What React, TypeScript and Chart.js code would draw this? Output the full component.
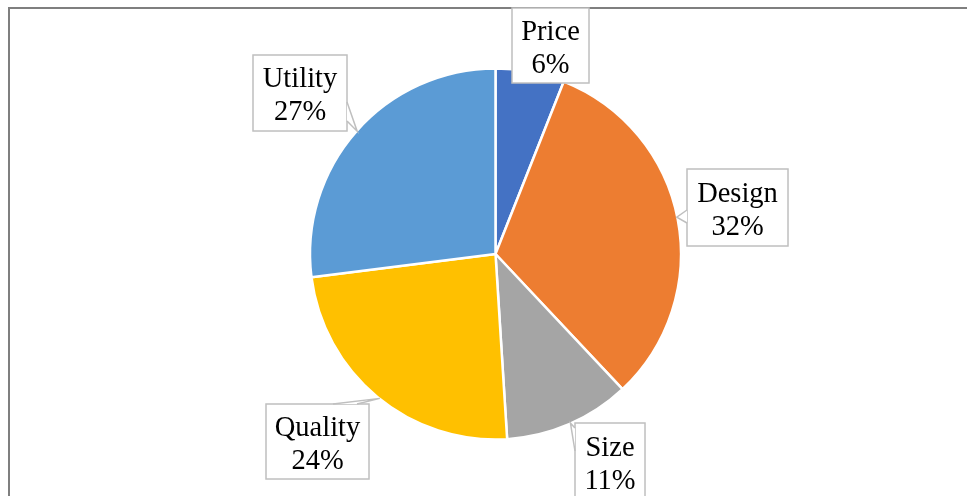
import React, { useEffect, useRef } from "react";
import { Chart, registerables } from "chart.js";

Chart.register(...registerables);

const categories = ["Price", "Design", "Size", "Quality", "Utility"];
const values = [6, 32, 11, 24, 27];
const percentLabels = ["6%", "32%", "11%", "24%", "27%"];
const colors = ["#4472C4", "#ED7D31", "#A5A5A5", "#FFC000", "#5B9BD5"];

// label callout layout: box [x, y, w, h], wedge base points, tip angle (deg clockwise from 12 o'clock)
type Callout = { box: [number, number, number, number]; base: [number, number][] | null; tipAngle: number };
const callouts: Callout[] = [
  { box: [512, 8, 77, 75], base: null, tipAngle: 0 },
  { box: [687, 169, 101, 77], base: [[687, 210], [687, 223]], tipAngle: 78.5 },
  { box: [575, 423, 70, 77], base: [[575, 428], [575, 451]], tipAngle: 156.1 },
  { box: [266, 404, 103, 75], base: [[333, 404], [357, 404]], tipAngle: 218.7 },
  { box: [253, 55, 94, 76], base: [[347, 102], [347, 121]], tipAngle: 311.6 },
];

const labelPlugin = {
  id: "calloutLabels",
  beforeDraw(chart: any) {
    const ctx = chart.ctx;
    ctx.save();
    ctx.fillStyle = "#ffffff";
    ctx.fillRect(0, 0, chart.width, chart.height);
    ctx.fillStyle = "#7f7f7f";
    ctx.fillRect(8, 7, chart.width - 8, 2);
    ctx.fillRect(8, 7, 2, chart.height - 7);
    ctx.restore();
  },
  afterDatasetsDraw(chart: any) {
    const ctx = chart.ctx;
    const meta = chart.getDatasetMeta(0);
    const arc0 = meta.data[0];
    const cx = arc0.x;
    const cy = arc0.y;
    const r = arc0.outerRadius - 0.5;
    ctx.save();
    callouts.forEach((c, i) => {
      const [x, y, w, h] = c.box;
      ctx.fillStyle = "#ffffff";
      ctx.fillRect(x, y, w, h);
      ctx.strokeStyle = "#bfbfbf";
      ctx.lineWidth = 1.5;
      ctx.strokeRect(x, y, w, h);
      if (c.base) {
        const a = (c.tipAngle * Math.PI) / 180;
        const tx = cx + r * Math.sin(a);
        const ty = cy - r * Math.cos(a);
        ctx.beginPath();
        ctx.moveTo(c.base[0][0], c.base[0][1]);
        ctx.lineTo(tx, ty);
        ctx.lineTo(c.base[1][0], c.base[1][1]);
        ctx.closePath();
        ctx.fillStyle = "#ffffff";
        ctx.fill();
        ctx.beginPath();
        ctx.moveTo(c.base[0][0], c.base[0][1]);
        ctx.lineTo(tx, ty);
        ctx.lineTo(c.base[1][0], c.base[1][1]);
        ctx.stroke();
      }
      ctx.fillStyle = "#000000";
      ctx.font = "28.5px 'Liberation Serif', 'Times New Roman', serif";
      ctx.textAlign = "center";
      ctx.textBaseline = "alphabetic";
      const mx = x + w / 2;
      const my = y + h / 2;
      ctx.fillText(categories[i], mx, my - 6);
      ctx.fillText(percentLabels[i], mx, my + 27);
    });
    ctx.restore();
  },
};

export default function App() {
  const ref = useRef<HTMLCanvasElement | null>(null);
  useEffect(() => {
    if (!ref.current) return;
    const chart = new Chart(ref.current, {
      type: "pie",
      data: {
        labels: categories,
        datasets: [
          {
            data: values,
            backgroundColor: colors,
            borderColor: "#ffffff",
            borderWidth: 2.5,
            radius: 185.5,
          } as any,
        ],
      },
      options: {
        responsive: false,
        animation: false,
        devicePixelRatio: 1,
        layout: { padding: { left: 311, right: 287, top: 69.5, bottom: 57.5 } },
        plugins: { legend: { display: false }, tooltip: { enabled: false } },
      },
      plugins: [labelPlugin],
    });
    return () => chart.destroy();
  }, []);
  return (
    <div style={{ position: "absolute", left: 0, top: 0, width: 967, height: 496 }}>
      <canvas ref={ref} width={967} height={496} style={{ width: 967, height: 496, display: "block" }} />
    </div>
  );
}
